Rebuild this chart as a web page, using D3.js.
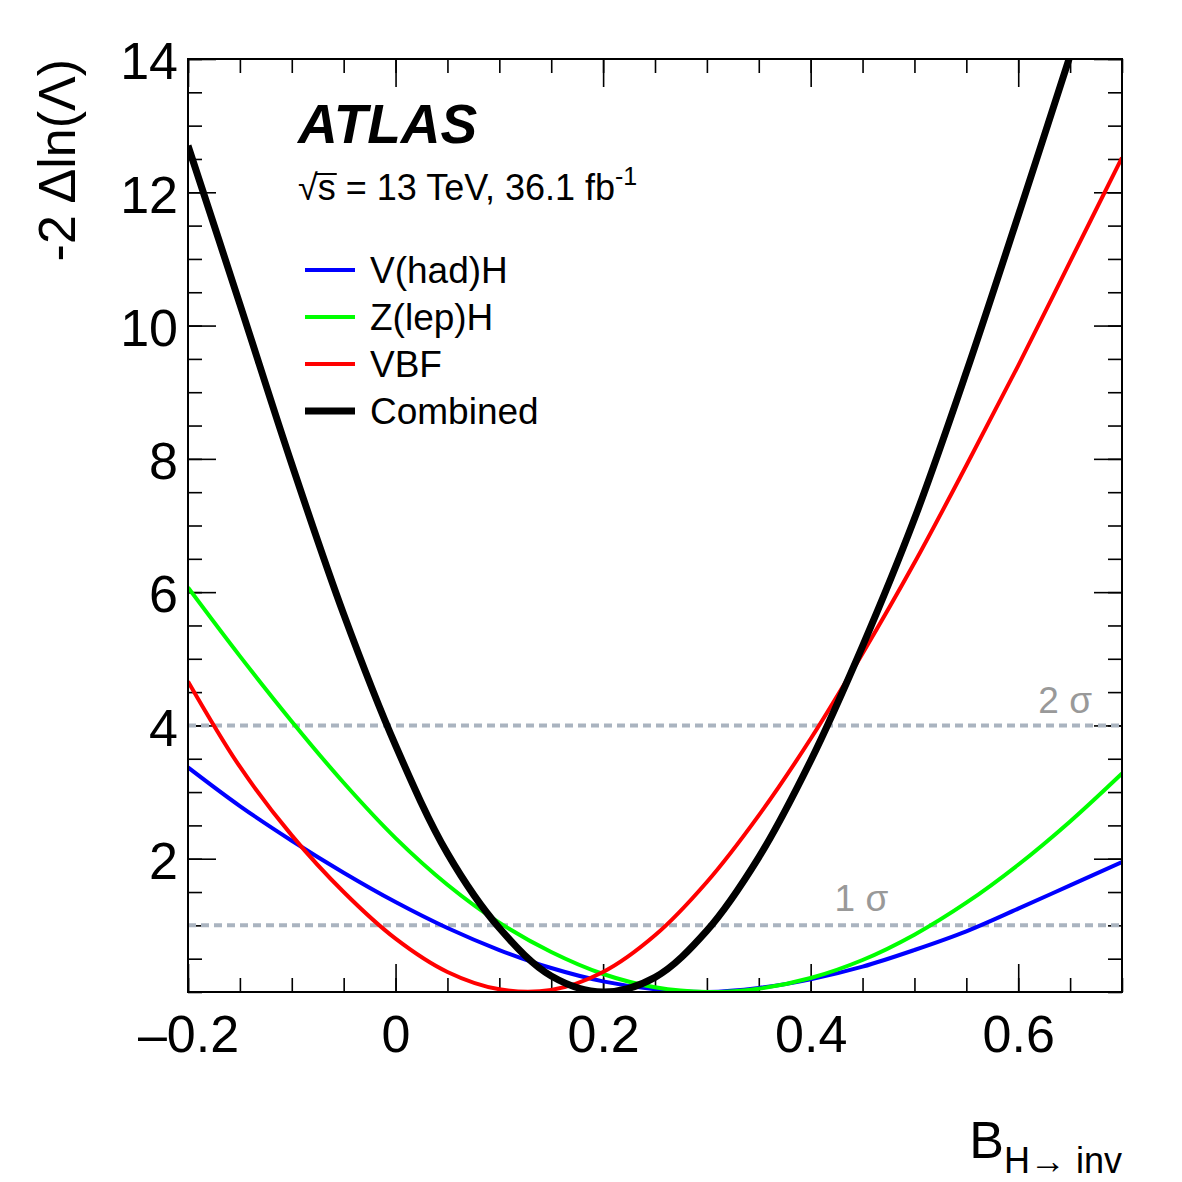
<!DOCTYPE html>
<html>
<head>
<meta charset="utf-8">
<script src="https://cdn.jsdelivr.net/npm/d3@7"></script>
<style>
  body { margin: 0; background: #fff; }
  svg { display: block; }
  text { font-family: "Liberation Sans", Arial, Helvetica, sans-serif; }
</style>
</head>
<body>
<div id="chart"></div>
<script>
//
// Likelihood scan: -2 dln(Lambda) vs B(H->inv)
//

// x grid shared by all scans
var xGrid = [-0.2, -0.15, -0.1, -0.05, 0, 0.05, 0.1, 0.15, 0.2, 0.25, 0.3, 0.35, 0.4, 0.45, 0.5, 0.55, 0.6, 0.65, 0.7];

var vhadH    = [3.37, 2.79, 2.27, 1.79, 1.35, 0.96, 0.63, 0.36, 0.16, 0.04, 0.0, 0.06, 0.19, 0.38, 0.63, 0.91, 1.25, 1.60, 1.95];
var zlepH    = [6.07, 5.04, 4.06, 3.14, 2.31, 1.61, 1.04, 0.60, 0.27, 0.07, 0.0, 0.05, 0.21, 0.48, 0.86, 1.34, 1.91, 2.56, 3.28];
var vbf      = [4.66, 3.38, 2.35, 1.50, 0.80, 0.30, 0.04, 0.03, 0.30, 0.85, 1.65, 2.65, 3.80, 5.08, 6.44, 7.90, 9.40, 10.96, 12.52];
var combined = [12.70, 10.32, 7.92, 5.67, 3.70, 2.08, 0.96, 0.24, 0.0, 0.22, 0.92, 2.02, 3.47, 5.19, 7.10, 9.30, 11.65, 14.05, null];

var seriesNames  = ["V(had)H", "Z(lep)H", "VBF", "Combined"];
var seriesColors = ["#0000ff", "#00ff00", "#ff0000", "#000000"];
var seriesWidths = [4, 4, 4, 7];

var xMajorTicks = [-0.2, 0, 0.2, 0.4, 0.6];
var xMinorTicks = d3.range(-0.2, 0.7001, 0.05);
var yMajorTicks = [2, 4, 6, 8, 10, 12, 14];
var yMinorTicks = d3.range(0, 14.001, 0.5);

var sigmaLevels = [1, 4];
var sigmaLabels = ["1 \u03c3", "2 \u03c3"];

var svgWidth = 1182, svgHeight = 1182;
var plotLeft = 188, plotRight = 1122, plotTop = 59, plotBottom = 992;

var svg = d3.select("#chart")
    .append("svg")
    .attr("width", svgWidth)
    .attr("height", svgHeight);

var x = d3.scaleLinear().domain([-0.2, 0.7]).range([plotLeft, plotRight]);
var y = d3.scaleLinear().domain([0, 14]).range([plotBottom, plotTop]);

svg.append("defs").append("clipPath")
    .attr("id", "plotClip")
    .append("rect")
    .attr("x", plotLeft).attr("y", plotTop)
    .attr("width", plotRight - plotLeft).attr("height", plotBottom - plotTop);

// axes (ticks inside, mirrored on top and right)
function styleAxis(g) {
    g.select(".domain").remove();
    g.selectAll(".tick line").attr("stroke", "#000").attr("stroke-width", 1.6);
}

svg.append("g")
    .attr("transform", "translate(0," + plotBottom + ")")
    .call(d3.axisBottom(x).tickValues(xMinorTicks).tickSizeInner(-14).tickSizeOuter(0).tickFormat(""))
    .call(styleAxis);
svg.append("g")
    .attr("transform", "translate(0," + plotBottom + ")")
    .call(d3.axisBottom(x).tickValues(xMajorTicks).tickSizeInner(-28).tickSizeOuter(0).tickPadding(23)
        .tickFormat(function (d) { return d < 0 ? "\u2013" + Math.abs(d) : String(d); }))
    .call(styleAxis)
    .selectAll("text")
    .attr("fill", "#000")
    .style("font-size", "52px");

svg.append("g")
    .attr("transform", "translate(0," + plotTop + ")")
    .call(d3.axisTop(x).tickValues(xMinorTicks).tickSizeInner(-14).tickSizeOuter(0).tickFormat(""))
    .call(styleAxis);
svg.append("g")
    .attr("transform", "translate(0," + plotTop + ")")
    .call(d3.axisTop(x).tickValues(xMajorTicks).tickSizeInner(-28).tickSizeOuter(0).tickFormat(""))
    .call(styleAxis);

svg.append("g")
    .attr("transform", "translate(" + plotLeft + ",0)")
    .call(d3.axisLeft(y).tickValues(yMinorTicks).tickSizeInner(-14).tickSizeOuter(0).tickFormat(""))
    .call(styleAxis);
svg.append("g")
    .attr("transform", "translate(" + plotLeft + ",0)")
    .call(d3.axisLeft(y).tickValues(yMajorTicks).tickSizeInner(-28).tickSizeOuter(0).tickPadding(10))
    .call(styleAxis)
    .selectAll("text")
    .attr("fill", "#000")
    .attr("dy", "0.38em")
    .style("font-size", "52px");

svg.append("g")
    .attr("transform", "translate(" + plotRight + ",0)")
    .call(d3.axisRight(y).tickValues(yMinorTicks).tickSizeInner(-14).tickSizeOuter(0).tickFormat(""))
    .call(styleAxis);
svg.append("g")
    .attr("transform", "translate(" + plotRight + ",0)")
    .call(d3.axisRight(y).tickValues(yMajorTicks).tickSizeInner(-28).tickSizeOuter(0).tickFormat(""))
    .call(styleAxis);

// sigma reference lines
svg.append("g").selectAll("line")
    .data(sigmaLevels)
    .enter().append("line")
    .attr("x1", plotLeft).attr("x2", plotRight)
    .attr("y1", function (d) { return y(d); })
    .attr("y2", function (d) { return y(d); })
    .attr("stroke", "#aab4c0")
    .attr("stroke-width", 4)
    .attr("stroke-dasharray", "8,5");

svg.append("text")
    .attr("x", x(0.423)).attr("y", y(1) - 14)
    .attr("fill", "#999")
    .style("font-size", "37px")
    .text(sigmaLabels[0]);
svg.append("text")
    .attr("x", 1092).attr("y", y(4) - 12)
    .attr("text-anchor", "end")
    .attr("fill", "#999")
    .style("font-size", "37px")
    .text(sigmaLabels[1]);

// curves
var allSeries = [vhadH, zlepH, vbf, combined];
var line = d3.line()
    .defined(function (d) { return d[1] != null; })
    .x(function (d) { return x(d[0]); })
    .y(function (d) { return y(d[1]); })
    .curve(d3.curveCatmullRom.alpha(0.5));

var curves = svg.append("g").attr("clip-path", "url(#plotClip)");
allSeries.forEach(function (vals, idx) {
    curves.append("path")
        .datum(xGrid.map(function (xv, i) { return [xv, vals[i]]; }))
        .attr("fill", "none")
        .attr("stroke", seriesColors[idx])
        .attr("stroke-width", seriesWidths[idx])
        .attr("stroke-linejoin", "round")
        .attr("d", line);
});

// frame
svg.append("rect")
    .attr("x", plotLeft).attr("y", plotTop)
    .attr("width", plotRight - plotLeft).attr("height", plotBottom - plotTop)
    .attr("fill", "none")
    .attr("stroke", "#000")
    .attr("stroke-width", 2);

// axis titles
svg.append("text")
    .attr("transform", "translate(75," + plotTop + ") rotate(-90)")
    .attr("text-anchor", "end")
    .style("font-size", "52px")
    .text("-2 \u0394ln(\u039b)");

var xTitle = svg.append("text")
    .attr("x", plotRight).attr("y", 1158)
    .attr("text-anchor", "end");
xTitle.append("tspan").style("font-size", "52px").text("B");
xTitle.append("tspan").attr("dy", 15).style("font-size", "36px").text("H\u2192 inv");

// ATLAS label
svg.append("text")
    .attr("x", 298).attr("y", 143)
    .style("font-size", "55px")
    .style("font-weight", "bold")
    .style("font-style", "italic")
    .text("ATLAS");

var energy = svg.append("text")
    .attr("x", 298).attr("y", 200)
    .style("font-size", "36px");
energy.append("tspan").text("\u221a");
energy.append("tspan").text("s");
energy.append("tspan").text(" = 13 TeV, 36.1 fb");
energy.append("tspan").attr("dy", -15).style("font-size", "25px").text("-1");

// overbar of the square root, placed from the rendered glyphs
var rootBox = energy.node().getExtentOfChar(0);
var sBox = energy.node().getExtentOfChar(1);
svg.append("line")
    .attr("x1", rootBox.x + rootBox.width - 2).attr("x2", sBox.x + sBox.width + 1)
    .attr("y1", 174).attr("y2", 174)
    .attr("stroke", "#000").attr("stroke-width", 2);

// legend
var legend = svg.selectAll(".legend")
    .data(seriesNames)
    .enter().append("g")
    .attr("class", "legend")
    .attr("transform", function (d, idx) { return "translate(0," + (270 + idx * 47) + ")"; });

legend.append("line")
    .attr("x1", 305).attr("x2", 355)
    .attr("stroke", function (d, idx) { return seriesColors[idx]; })
    .attr("stroke-width", function (d, idx) { return seriesWidths[idx]; });

legend.append("text")
    .attr("x", 370).attr("y", 13)
    .style("font-size", "37px")
    .text(function (d) { return d; });
</script>
</body>
</html>
